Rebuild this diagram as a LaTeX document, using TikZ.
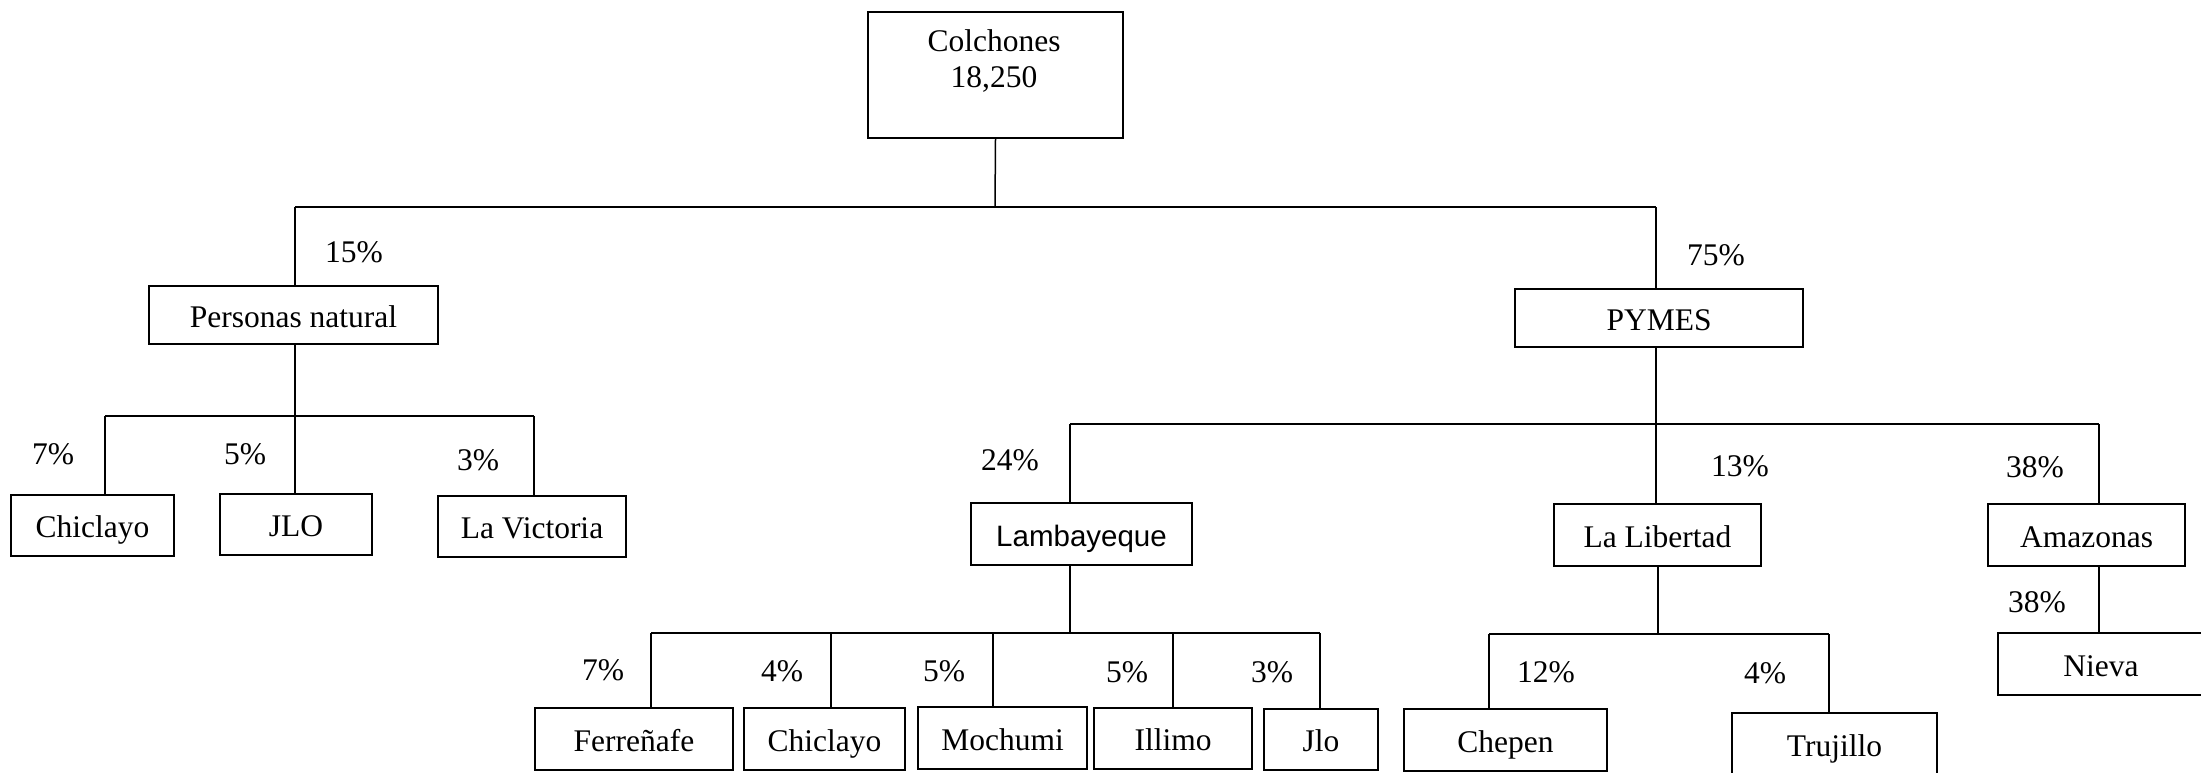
\documentclass[tikz,border=0pt]{standalone}
\usepackage{fontspec}
\setmainfont{Liberation Serif}
\newfontfamily\arialfont{Liberation Sans}
\begin{document}
\begin{tikzpicture}[x=1pt,y=-1pt,
  font=\fontsize{31.5}{36}\selectfont,
  orgbox/.style={draw, line width=1.5pt, rectangle, inner sep=0pt,
    text height=26pt, text depth=2pt},
  pct/.style={inner sep=0pt, text height=20.8pt, text depth=0pt},
  link/.style={line width=1.5pt}]
\useasboundingbox (0,0) rectangle (2201,773);

% top level
\node[orgbox, minimum width=255, minimum height=126] (root) at (995.5,75) {};
\node[anchor=north, align=center, inner sep=0pt] (rootlbl) at (994,29) {Colchones\\18,250};

% second level
\node[orgbox, minimum width=289, minimum height=58] (pn) at (293.5,315) {Personas natural};
\node[orgbox, minimum width=288, minimum height=58] (pymes) at (1659,318) {PYMES};

% children of Personas natural
\node[orgbox, minimum width=163, minimum height=61] (chic1) at (92.5,525.5) {Chiclayo};
\node[orgbox, minimum width=152, minimum height=61] (jlo) at (296,524.5) {JLO};
\node[orgbox, minimum width=188, minimum height=61] (lavic) at (532,526.5) {La Victoria};

% children of PYMES
\node[orgbox, minimum width=221, minimum height=62, font=\arialfont\fontsize{29.5}{34}\selectfont] (lamb) at (1081.5,534) {Lambayeque};
\node[orgbox, minimum width=207, minimum height=62] (lalib) at (1657.5,535) {La Libertad};
\node[orgbox, minimum width=197, minimum height=62] (amaz) at (2086.5,535) {Amazonas};

% children of Lambayeque
\node[orgbox, minimum width=198, minimum height=62] (ferr) at (634,739) {Ferreñafe};
\node[orgbox, minimum width=161, minimum height=62] (chic2) at (824.5,739) {Chiclayo};
\node[orgbox, minimum width=169, minimum height=62] (moch) at (1002.5,738) {Mochumi};
\node[orgbox, minimum width=158, minimum height=61] (illimo) at (1173,738.5) {Illimo};
\node[orgbox, minimum width=114, minimum height=61] (jlo2) at (1321,739.5) {Jlo};

% children of La Libertad
\node[orgbox, minimum width=203, minimum height=62] (chepen) at (1505.5,740) {Chepen};
\node[orgbox, minimum width=205, minimum height=62] (trujillo) at (1834.5,744) {Trujillo};

% child of Amazonas
\node[orgbox, minimum width=206, minimum height=62] (nieva) at (2101,664) {Nieva};

% bus below the root
\coordinate (a0) at (995,207);
\coordinate (a1) at (295,207);
\coordinate (a2) at (1656,207);
\draw[link] (root.south) -- (a0);
\draw[link] (a1) -- (a2);
\draw[link] (a1) -- (a1 |- pn.north);
\draw[link] (a2) -- (a2 |- pymes.north);

% bus below Personas natural
\coordinate (b0) at (295,416);
\coordinate (b1) at (105,416);
\coordinate (b3) at (534,416);
\draw[link] (b0 |- pn.south) -- (b0);
\draw[link] (b1) -- (b3);
\draw[link] (b1) -- (b1 |- chic1.north);
\draw[link] (b0) -- (b0 |- jlo.north);
\draw[link] (b3) -- (b3 |- lavic.north);

% bus below PYMES
\coordinate (c0) at (1656,424);
\coordinate (c1) at (1070,424);
\coordinate (c3) at (2099,424);
\draw[link] (c0 |- pymes.south) -- (c0);
\draw[link] (c1) -- (c3);
\draw[link] (c1) -- (c1 |- lamb.north);
\draw[link] (c0) -- (c0 |- lalib.north);
\draw[link] (c3) -- (c3 |- amaz.north);

% bus below Lambayeque
\coordinate (d0) at (1070,633);
\coordinate (d1) at (651,633);
\coordinate (d2) at (831,633);
\coordinate (d3) at (993,633);
\coordinate (d4) at (1173,633);
\coordinate (d5) at (1320,633);
\draw[link] (d0 |- lamb.south) -- (d0);
\draw[link] (d1) -- (d5);
\draw[link] (d1) -- (d1 |- ferr.north);
\draw[link] (d2) -- (d2 |- chic2.north);
\draw[link] (d3) -- (d3 |- moch.north);
\draw[link] (d4) -- (d4 |- illimo.north);
\draw[link] (d5) -- (d5 |- jlo2.north);

% bus below La Libertad
\coordinate (e0) at (1658,634);
\coordinate (e1) at (1489,634);
\coordinate (e2) at (1829,634);
\draw[link] (e0 |- lalib.south) -- (e0);
\draw[link] (e1) -- (e2);
\draw[link] (e1) -- (e1 |- chepen.north);
\draw[link] (e2) -- (e2 |- trujillo.north);

% Amazonas to Nieva
\coordinate (f0) at (2099,566);
\draw[link] (f0 |- amaz.south) -- (f0 |- nieva.north);

% shares
\node[pct] (p15) at (354,252) {15\%};
\node[pct] (p75) at (1716,255) {75\%};
\node[pct] (p7a) at (53,454) {7\%};
\node[pct] (p5a) at (245,454) {5\%};
\node[pct] (p3a) at (478,460) {3\%};
\node[pct] (p24) at (1010,460) {24\%};
\node[pct] (p13) at (1740,466) {13\%};
\node[pct] (p38a) at (2035,467) {38\%};
\node[pct] (p38b) at (2037,602) {38\%};
\node[pct] (p7b) at (603,670) {7\%};
\node[pct] (p4a) at (782,671) {4\%};
\node[pct] (p5b) at (944,671) {5\%};
\node[pct] (p5c) at (1127,672) {5\%};
\node[pct] (p3b) at (1272,672) {3\%};
\node[pct] (p12) at (1546,672) {12\%};
\node[pct] (p4b) at (1765,673) {4\%};
\end{tikzpicture}
\end{document}
